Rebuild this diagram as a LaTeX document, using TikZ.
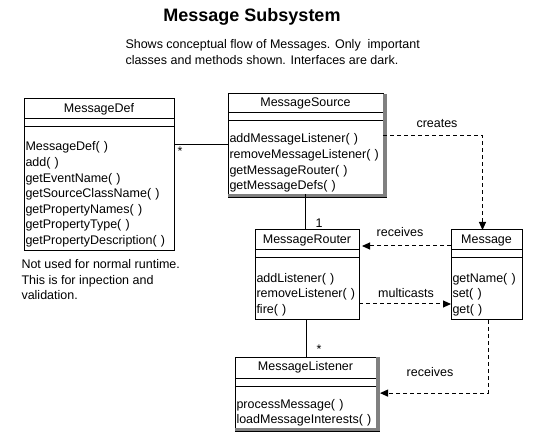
\documentclass[tikz,border=0pt]{standalone}
\usepackage{fontspec}
\setmainfont{Liberation Sans}
\usetikzlibrary{arrows.meta, positioning, backgrounds}
\definecolor{cshadow}{HTML}{808080}
\newcommand\clsfont{\fontsize{12.5}{15.6}\selectfont}
\tikzset{
  every picture/.style={line width=1pt},
  cname/.style={draw, outer sep=0pt, inner sep=0pt, anchor=north west, minimum width=#1, minimum height=20pt, font=\clsfont},
  cattr/.style={draw, outer sep=0pt, inner sep=0pt, minimum width=#1, minimum height=8pt},
  cmeth/.style={draw, outer sep=0pt, inner xsep=1.5pt, inner ysep=2pt, text height=20pt, align=left, font=\clsfont},
  dep/.style={dash pattern=on 4pt off 3pt, -{Triangle[length=8pt,width=7pt]}},
  lbl/.style={font=\clsfont, inner sep=0pt},
  shade/.style={fill=cshadow, draw=none},
}

\begin{document}
\begin{tikzpicture}[x=1pt, y=-1pt, node distance=0pt]
  \useasboundingbox (0,0) rectangle (539,441);
  % ---- heading ----
  \node[font=\fontsize{18}{20}\selectfont\bfseries] (head) at (252,17) {Message Subsystem};
  \node[lbl, anchor=west, align=left] (sub) at (125,52) {Shows conceptual flow of Messages. Only~ important\\classes and methods shown. Interfaces are dark.};
  % ---- MessageDef ----
  \node[cname=150pt] (def) at (24,99) {MessageDef};
  \node[cattr=150pt, below=of def] (defa) {};
  \node[cmeth, text width=147pt, minimum height=124pt, below=of defa] (defm) {MessageDef( )\\add( )\\getEventName( )\\getSourceClassName( )\\getPropertyNames( )\\getPropertyType( )\\getPropertyDescription( )};
  \node[lbl, anchor=north west, align=left] (defnote) at (21,259) {Not used for normal runtime.\\This is for inpection and\\validation.};
  % ---- MessageSource (interface) ----
  \node[cname=155pt, minimum height=19pt] (src) at (228,94) {MessageSource};
  \node[cattr=155pt, below=of src] (srca) {};
  \node[cmeth, text width=152pt, minimum height=73pt, below=of srca] (srcm) {addMessageListener( )\\removeMessageListener( )\\getMessageRouter( )\\getMessageDefs( )};
  % ---- MessageRouter ----
  \node[cname=104pt] (rt) at (255,230) {MessageRouter};
  \node[cattr=104pt, below=of rt] (rta) {};
  \node[cmeth, text width=101pt, minimum height=62pt, below=of rta] (rtm) {addListener( )\\removeListener( )\\fire( )};
  % ---- Message ----
  \node[cname=71pt] (msg) at (451,230) {Message};
  \node[cattr=71pt, below=of msg] (msga) {};
  \node[cmeth, text width=68pt, minimum height=62pt, below=of msga] (msgm) {getName( )\\set( )\\get( )};
  % ---- MessageListener (interface) ----
  \node[cname=141pt, minimum height=21pt] (ls) at (235,357) {MessageListener};
  \node[cattr=141pt, below=of ls] (lsa) {};
  \node[cmeth, text width=138pt, minimum height=42pt, below=of lsa] (lsm) {processMessage( )\\loadMessageInterests( )};
  % dark edges for the interfaces
  \fill[shade] (src.north east) rectangle ([xshift=4pt, yshift=-3pt]srcm.south east);
  \fill[shade] (srcm.south west) rectangle ([xshift=4pt, yshift=-3pt]srcm.south east);
  \draw ([yshift=-3pt]srcm.south west) -- ([xshift=4pt, yshift=-3pt]srcm.south east);
  \fill[shade] (ls.north east) rectangle ([xshift=4pt, yshift=-3pt]lsm.south east);
  \fill[shade] (lsm.south west) rectangle ([xshift=4pt, yshift=-3pt]lsm.south east);
  \draw ([yshift=-3pt]lsm.south west) -- ([xshift=4pt, yshift=-3pt]lsm.south east);
  % ---- associations ----
  \draw ([yshift=-18pt]defm.north east) -- ([yshift=-18pt]defm.north east -| srcm.west);
  \node[lbl] (m1) at (180,151) {*};
  \draw ([xshift=-2pt]rt.north) -- ([xshift=-2pt]rt.north |- srcm.south);
  \node[lbl] (m2) at (319,223) {1};
  \draw ([xshift=-1pt]rtm.south) -- ([xshift=-1pt]rtm.south |- ls.north);
  \node[lbl] (m3) at (319,349) {*};
  % ---- dependencies ----
  \draw[dep] ([yshift=-15pt]srcm.north east) -| ([xshift=-4pt]msg.north);
  \node[lbl] (l1) at (437,124) {creates};
  \draw[dep, shorten >=3pt] ([yshift=-6pt]msg.west) -- ([yshift=-6pt]rt.east);
  \node[lbl] (l2) at (400,232) {receives};
  \draw[dep] ([yshift=-15pt]rtm.east) -- ([yshift=-15pt]rtm.east -| msgm.west);
  \node[lbl] (l3) at (406,293) {multicasts};
  \draw[dep] ([xshift=1.5pt]msgm.south) |- ([xshift=4pt, yshift=14pt]lsm.east);
  \node[lbl] (l4) at (430,372) {receives};
\end{tikzpicture}
\end{document}
